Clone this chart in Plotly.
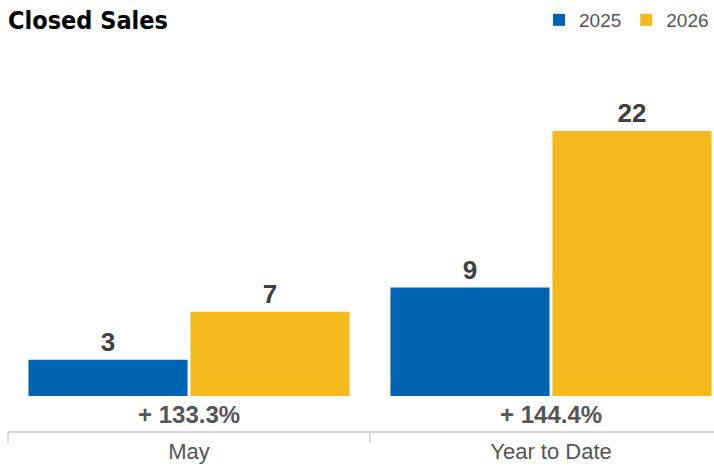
import plotly.graph_objects as go

categories = ["May", "Year to Date"]
series_names = ["2025", "2026"]
values_2025 = [3, 9]
values_2026 = [7, 22]
colors = ["#0064B2", "#F3B91D"]

W, H = 714, 466
plot_left, plot_right = 8, 714
plot_top, plot_bottom = 60, 431
px_per_cat = 362
px_per_unit = 265 / 22
baseline_offset = 35  # px between axis line and zero

x_range = [-0.5, -0.5 + (plot_right - plot_left) / px_per_cat]
y_lo = -baseline_offset / px_per_unit
y_range = [y_lo, y_lo + (plot_bottom - plot_top) / px_per_unit]

fig = go.Figure()
for name, vals, col in zip(series_names, [values_2025, values_2026], colors):
    fig.add_trace(go.Bar(
        x=categories, y=vals, name=name,
        marker=dict(color=col, line=dict(width=0)),
        text=[f"<b>{v}</b>" for v in vals], textposition="outside",
        textfont=dict(family="Liberation Sans", size=26, color="#404040"),
        cliponaxis=False, hoverinfo="skip",
    ))

for cat, a, b in zip(categories, values_2025, values_2026):
    pct = (b - a) / a * 100
    sign = "+" if pct >= 0 else "-"
    fig.add_annotation(
        x=cat, y=0, xref="x", yref="y", yanchor="top", yshift=-3,
        text=f"<b>{sign} {abs(pct):.1f}%</b>", showarrow=False,
        font=dict(family="Liberation Sans", size=24, color="#555555"),
    )

fig.update_layout(
    width=W, height=H,
    margin=dict(l=plot_left, r=W - plot_right, t=plot_top, b=H - plot_bottom, autoexpand=False),
    paper_bgcolor="white", plot_bgcolor="white",
    barmode="group", bargap=0.105, bargroupgap=0.018,
    title=dict(text="<b>Closed Sales</b>", x=8 / W, xanchor="left", xref="container",
               y=1 - 20 / H, yanchor="middle", yref="container",
               font=dict(family="DejaVu Sans Condensed, Liberation Sans Narrow, Liberation Sans", size=25, color="#000000")),
    legend=dict(orientation="h", x=1, xanchor="right", y=1 + 40 / (plot_bottom - plot_top),
                yanchor="middle", font=dict(family="Liberation Sans", size=19, color="#555555"),
                itemclick=False, bgcolor="rgba(0,0,0,0)"),
    xaxis=dict(type="category", range=x_range, showline=True, linecolor="#D8D8D8", linewidth=2,
               ticks="outside", tickson="boundaries", ticklen=10, tickcolor="#D8D8D8", tickwidth=2,
               tickfont=dict(family="Liberation Sans", size=22, color="#555555"),
               showgrid=False, zeroline=False, fixedrange=True, automargin=False),
    yaxis=dict(range=y_range, visible=False, showgrid=False, zeroline=False, fixedrange=True),
    hovermode=False,
)

fig.write_html("out.html", config={"displayModeBar": False, "staticPlot": True},
               post_script="document.body.style.margin='0';document.body.style.overflow='hidden';")
